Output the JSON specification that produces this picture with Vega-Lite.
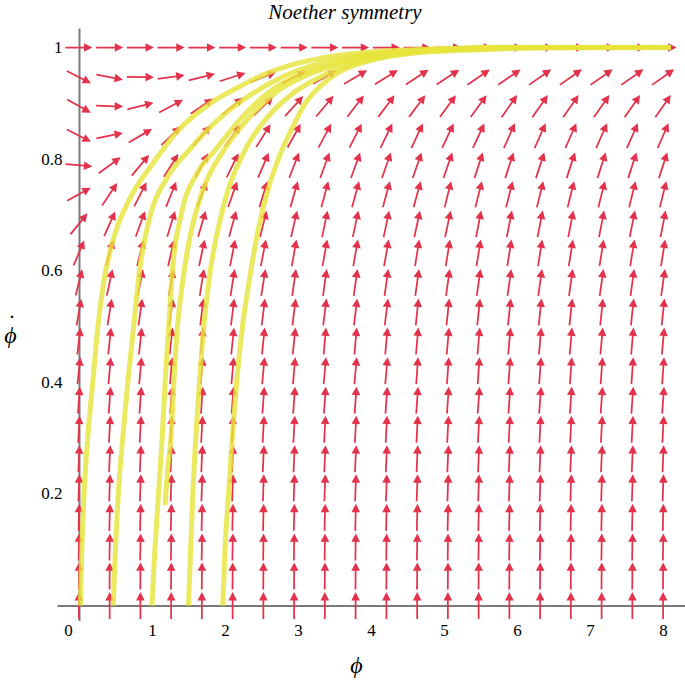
{
  "$schema": "https://vega.github.io/schema/vega-lite/v6.json",
  "autosize": {"type": "none"},
  "padding": {"left": 57, "top": 28, "right": 0, "bottom": 60},
  "width": 628,
  "height": 592.6,
  "background": "white",
  "title": {"text": "Noether symmetry", "font": "Liberation Serif", "fontStyle": "italic", "fontWeight": "normal", "fontSize": 21, "color": "black", "anchor": "middle", "frame": "group", "dx": -26, "offset": 5},
  "config": {"view": {"stroke": null}},
  "datasets": {
    "arrows": [
      {"x":0,"y":1,"a":90},{"x":0.421,"y":1,"a":90},{"x":0.842,"y":1,"a":90},{"x":1.263,"y":1,"a":90},{"x":1.684,"y":1,"a":90},{"x":2.105,"y":1,"a":90},{"x":2.526,"y":1,"a":90},{"x":2.947,"y":1,"a":90},{"x":3.368,"y":1,"a":90},{"x":3.789,"y":1,"a":90},{"x":4.211,"y":1,"a":90},{"x":4.632,"y":1,"a":90},{"x":5.053,"y":1,"a":90},{"x":5.474,"y":1,"a":90},{"x":5.895,"y":1,"a":90},{"x":6.316,"y":1,"a":90},{"x":6.737,"y":1,"a":90},{"x":7.158,"y":1,"a":90},{"x":7.579,"y":1,"a":90},{"x":8,"y":1,"a":90},
      {"x":0,"y":0.947,"a":117},{"x":0.421,"y":0.947,"a":101},{"x":0.842,"y":0.947,"a":91},{"x":1.263,"y":0.947,"a":82},{"x":1.684,"y":0.947,"a":76},{"x":2.105,"y":0.947,"a":72},{"x":2.526,"y":0.947,"a":68},{"x":2.947,"y":0.947,"a":63},{"x":3.368,"y":0.947,"a":61},{"x":3.789,"y":0.947,"a":59},{"x":4.211,"y":0.947,"a":58},{"x":4.632,"y":0.947,"a":57},{"x":5.053,"y":0.947,"a":57},{"x":5.474,"y":0.947,"a":56},{"x":5.895,"y":0.947,"a":56},{"x":6.316,"y":0.947,"a":55},{"x":6.737,"y":0.947,"a":55},{"x":7.158,"y":0.947,"a":55},{"x":7.579,"y":0.947,"a":55},{"x":8,"y":0.947,"a":55},
      {"x":0,"y":0.895,"a":119},{"x":0.421,"y":0.895,"a":92},{"x":0.842,"y":0.895,"a":76},{"x":1.263,"y":0.895,"a":62},{"x":1.684,"y":0.895,"a":56},{"x":2.105,"y":0.895,"a":51},{"x":2.526,"y":0.895,"a":46},{"x":2.947,"y":0.895,"a":42},{"x":3.368,"y":0.895,"a":40},{"x":3.789,"y":0.895,"a":38},{"x":4.211,"y":0.895,"a":37},{"x":4.632,"y":0.895,"a":37},{"x":5.053,"y":0.895,"a":36},{"x":5.474,"y":0.895,"a":36},{"x":5.895,"y":0.895,"a":35},{"x":6.316,"y":0.895,"a":35},{"x":6.737,"y":0.895,"a":35},{"x":7.158,"y":0.895,"a":35},{"x":7.579,"y":0.895,"a":35},{"x":8,"y":0.895,"a":35},
      {"x":0,"y":0.842,"a":117},{"x":0.421,"y":0.842,"a":79},{"x":0.842,"y":0.842,"a":60},{"x":1.263,"y":0.842,"a":46},{"x":1.684,"y":0.842,"a":40},{"x":2.105,"y":0.842,"a":36},{"x":2.526,"y":0.842,"a":32},{"x":2.947,"y":0.842,"a":29},{"x":3.368,"y":0.842,"a":28},{"x":3.789,"y":0.842,"a":27},{"x":4.211,"y":0.842,"a":26},{"x":4.632,"y":0.842,"a":25},{"x":5.053,"y":0.842,"a":25},{"x":5.474,"y":0.842,"a":25},{"x":5.895,"y":0.842,"a":24},{"x":6.316,"y":0.842,"a":24},{"x":6.737,"y":0.842,"a":24},{"x":7.158,"y":0.842,"a":24},{"x":7.579,"y":0.842,"a":24},{"x":8,"y":0.842,"a":24},
      {"x":0,"y":0.789,"a":95},{"x":0.421,"y":0.789,"a":54},{"x":0.842,"y":0.789,"a":40},{"x":1.263,"y":0.789,"a":32},{"x":1.684,"y":0.789,"a":28},{"x":2.105,"y":0.789,"a":26},{"x":2.526,"y":0.789,"a":23},{"x":2.947,"y":0.789,"a":21},{"x":3.368,"y":0.789,"a":20},{"x":3.789,"y":0.789,"a":20},{"x":4.211,"y":0.789,"a":19},{"x":4.632,"y":0.789,"a":19},{"x":5.053,"y":0.789,"a":19},{"x":5.474,"y":0.789,"a":18},{"x":5.895,"y":0.789,"a":18},{"x":6.316,"y":0.789,"a":18},{"x":6.737,"y":0.789,"a":18},{"x":7.158,"y":0.789,"a":18},{"x":7.579,"y":0.789,"a":18},{"x":8,"y":0.789,"a":18},
      {"x":0,"y":0.737,"a":61},{"x":0.421,"y":0.737,"a":34},{"x":0.842,"y":0.737,"a":27},{"x":1.263,"y":0.737,"a":22},{"x":1.684,"y":0.737,"a":20},{"x":2.105,"y":0.737,"a":19},{"x":2.526,"y":0.737,"a":17},{"x":2.947,"y":0.737,"a":16},{"x":3.368,"y":0.737,"a":15},{"x":3.789,"y":0.737,"a":15},{"x":4.211,"y":0.737,"a":15},{"x":4.632,"y":0.737,"a":15},{"x":5.053,"y":0.737,"a":14},{"x":5.474,"y":0.737,"a":14},{"x":5.895,"y":0.737,"a":14},{"x":6.316,"y":0.737,"a":14},{"x":6.737,"y":0.737,"a":14},{"x":7.158,"y":0.737,"a":14},{"x":7.579,"y":0.737,"a":14},{"x":8,"y":0.737,"a":14},
      {"x":0,"y":0.684,"a":39},{"x":0.421,"y":0.684,"a":24},{"x":0.842,"y":0.684,"a":20},{"x":1.263,"y":0.684,"a":17},{"x":1.684,"y":0.684,"a":16},{"x":2.105,"y":0.684,"a":15},{"x":2.526,"y":0.684,"a":14},{"x":2.947,"y":0.684,"a":13},{"x":3.368,"y":0.684,"a":12},{"x":3.789,"y":0.684,"a":12},{"x":4.211,"y":0.684,"a":12},{"x":4.632,"y":0.684,"a":12},{"x":5.053,"y":0.684,"a":12},{"x":5.474,"y":0.684,"a":11},{"x":5.895,"y":0.684,"a":11},{"x":6.316,"y":0.684,"a":11},{"x":6.737,"y":0.684,"a":11},{"x":7.158,"y":0.684,"a":11},{"x":7.579,"y":0.684,"a":11},{"x":8,"y":0.684,"a":11},
      {"x":0,"y":0.632,"a":23},{"x":0.421,"y":0.632,"a":16},{"x":0.842,"y":0.632,"a":14},{"x":1.263,"y":0.632,"a":13},{"x":1.684,"y":0.632,"a":12},{"x":2.105,"y":0.632,"a":11},{"x":2.526,"y":0.632,"a":11},{"x":2.947,"y":0.632,"a":10},{"x":3.368,"y":0.632,"a":10},{"x":3.789,"y":0.632,"a":10},{"x":4.211,"y":0.632,"a":10},{"x":4.632,"y":0.632,"a":9},{"x":5.053,"y":0.632,"a":9},{"x":5.474,"y":0.632,"a":9},{"x":5.895,"y":0.632,"a":9},{"x":6.316,"y":0.632,"a":9},{"x":6.737,"y":0.632,"a":9},{"x":7.158,"y":0.632,"a":9},{"x":7.579,"y":0.632,"a":9},{"x":8,"y":0.632,"a":9},
      {"x":0,"y":0.579,"a":14},{"x":0.421,"y":0.579,"a":12},{"x":0.842,"y":0.579,"a":11},{"x":1.263,"y":0.579,"a":10},{"x":1.684,"y":0.579,"a":9},{"x":2.105,"y":0.579,"a":9},{"x":2.526,"y":0.579,"a":9},{"x":2.947,"y":0.579,"a":8},{"x":3.368,"y":0.579,"a":8},{"x":3.789,"y":0.579,"a":8},{"x":4.211,"y":0.579,"a":8},{"x":4.632,"y":0.579,"a":8},{"x":5.053,"y":0.579,"a":8},{"x":5.474,"y":0.579,"a":8},{"x":5.895,"y":0.579,"a":8},{"x":6.316,"y":0.579,"a":8},{"x":6.737,"y":0.579,"a":8},{"x":7.158,"y":0.579,"a":8},{"x":7.579,"y":0.579,"a":8},{"x":8,"y":0.579,"a":8},
      {"x":0,"y":0.526,"a":10},{"x":0.421,"y":0.526,"a":9},{"x":0.842,"y":0.526,"a":8},{"x":1.263,"y":0.526,"a":8},{"x":1.684,"y":0.526,"a":7},{"x":2.105,"y":0.526,"a":7},{"x":2.526,"y":0.526,"a":7},{"x":2.947,"y":0.526,"a":7},{"x":3.368,"y":0.526,"a":7},{"x":3.789,"y":0.526,"a":7},{"x":4.211,"y":0.526,"a":7},{"x":4.632,"y":0.526,"a":6},{"x":5.053,"y":0.526,"a":6},{"x":5.474,"y":0.526,"a":6},{"x":5.895,"y":0.526,"a":6},{"x":6.316,"y":0.526,"a":6},{"x":6.737,"y":0.526,"a":6},{"x":7.158,"y":0.526,"a":6},{"x":7.579,"y":0.526,"a":6},{"x":8,"y":0.526,"a":6},
      {"x":0,"y":0.474,"a":7},{"x":0.421,"y":0.474,"a":6},{"x":0.842,"y":0.474,"a":6},{"x":1.263,"y":0.474,"a":6},{"x":1.684,"y":0.474,"a":6},{"x":2.105,"y":0.474,"a":6},{"x":2.526,"y":0.474,"a":6},{"x":2.947,"y":0.474,"a":6},{"x":3.368,"y":0.474,"a":5},{"x":3.789,"y":0.474,"a":5},{"x":4.211,"y":0.474,"a":5},{"x":4.632,"y":0.474,"a":5},{"x":5.053,"y":0.474,"a":5},{"x":5.474,"y":0.474,"a":5},{"x":5.895,"y":0.474,"a":5},{"x":6.316,"y":0.474,"a":5},{"x":6.737,"y":0.474,"a":5},{"x":7.158,"y":0.474,"a":5},{"x":7.579,"y":0.474,"a":5},{"x":8,"y":0.474,"a":5},
      {"x":0,"y":0.421,"a":6},{"x":0.421,"y":0.421,"a":5},{"x":0.842,"y":0.421,"a":5},{"x":1.263,"y":0.421,"a":5},{"x":1.684,"y":0.421,"a":5},{"x":2.105,"y":0.421,"a":5},{"x":2.526,"y":0.421,"a":5},{"x":2.947,"y":0.421,"a":5},{"x":3.368,"y":0.421,"a":5},{"x":3.789,"y":0.421,"a":5},{"x":4.211,"y":0.421,"a":5},{"x":4.632,"y":0.421,"a":4},{"x":5.053,"y":0.421,"a":4},{"x":5.474,"y":0.421,"a":4},{"x":5.895,"y":0.421,"a":4},{"x":6.316,"y":0.421,"a":4},{"x":6.737,"y":0.421,"a":4},{"x":7.158,"y":0.421,"a":4},{"x":7.579,"y":0.421,"a":4},{"x":8,"y":0.421,"a":4},
      {"x":0,"y":0.368,"a":4},{"x":0.421,"y":0.368,"a":4},{"x":0.842,"y":0.368,"a":4},{"x":1.263,"y":0.368,"a":4},{"x":1.684,"y":0.368,"a":4},{"x":2.105,"y":0.368,"a":4},{"x":2.526,"y":0.368,"a":4},{"x":2.947,"y":0.368,"a":4},{"x":3.368,"y":0.368,"a":4},{"x":3.789,"y":0.368,"a":4},{"x":4.211,"y":0.368,"a":4},{"x":4.632,"y":0.368,"a":4},{"x":5.053,"y":0.368,"a":4},{"x":5.474,"y":0.368,"a":4},{"x":5.895,"y":0.368,"a":4},{"x":6.316,"y":0.368,"a":4},{"x":6.737,"y":0.368,"a":4},{"x":7.158,"y":0.368,"a":4},{"x":7.579,"y":0.368,"a":4},{"x":8,"y":0.368,"a":4},
      {"x":0,"y":0.316,"a":3},{"x":0.421,"y":0.316,"a":3},{"x":0.842,"y":0.316,"a":3},{"x":1.263,"y":0.316,"a":3},{"x":1.684,"y":0.316,"a":3},{"x":2.105,"y":0.316,"a":3},{"x":2.526,"y":0.316,"a":3},{"x":2.947,"y":0.316,"a":3},{"x":3.368,"y":0.316,"a":3},{"x":3.789,"y":0.316,"a":3},{"x":4.211,"y":0.316,"a":3},{"x":4.632,"y":0.316,"a":3},{"x":5.053,"y":0.316,"a":3},{"x":5.474,"y":0.316,"a":3},{"x":5.895,"y":0.316,"a":3},{"x":6.316,"y":0.316,"a":3},{"x":6.737,"y":0.316,"a":3},{"x":7.158,"y":0.316,"a":3},{"x":7.579,"y":0.316,"a":3},{"x":8,"y":0.316,"a":3},
      {"x":0,"y":0.263,"a":2.5},{"x":0.421,"y":0.263,"a":2.5},{"x":0.842,"y":0.263,"a":2.5},{"x":1.263,"y":0.263,"a":2.5},{"x":1.684,"y":0.263,"a":2.5},{"x":2.105,"y":0.263,"a":2.5},{"x":2.526,"y":0.263,"a":2.5},{"x":2.947,"y":0.263,"a":2.5},{"x":3.368,"y":0.263,"a":2.5},{"x":3.789,"y":0.263,"a":2.5},{"x":4.211,"y":0.263,"a":2.5},{"x":4.632,"y":0.263,"a":2.5},{"x":5.053,"y":0.263,"a":2.5},{"x":5.474,"y":0.263,"a":2.5},{"x":5.895,"y":0.263,"a":2.5},{"x":6.316,"y":0.263,"a":2.5},{"x":6.737,"y":0.263,"a":2.5},{"x":7.158,"y":0.263,"a":2.5},{"x":7.579,"y":0.263,"a":2.5},{"x":8,"y":0.263,"a":2.5},
      {"x":0,"y":0.211,"a":2},{"x":0.421,"y":0.211,"a":2},{"x":0.842,"y":0.211,"a":2},{"x":1.263,"y":0.211,"a":2},{"x":1.684,"y":0.211,"a":2},{"x":2.105,"y":0.211,"a":2},{"x":2.526,"y":0.211,"a":2},{"x":2.947,"y":0.211,"a":2},{"x":3.368,"y":0.211,"a":2},{"x":3.789,"y":0.211,"a":2},{"x":4.211,"y":0.211,"a":2},{"x":4.632,"y":0.211,"a":2},{"x":5.053,"y":0.211,"a":2},{"x":5.474,"y":0.211,"a":2},{"x":5.895,"y":0.211,"a":2},{"x":6.316,"y":0.211,"a":2},{"x":6.737,"y":0.211,"a":2},{"x":7.158,"y":0.211,"a":2},{"x":7.579,"y":0.211,"a":2},{"x":8,"y":0.211,"a":2},
      {"x":0,"y":0.158,"a":1.4},{"x":0.421,"y":0.158,"a":1.4},{"x":0.842,"y":0.158,"a":1.4},{"x":1.263,"y":0.158,"a":1.4},{"x":1.684,"y":0.158,"a":1.4},{"x":2.105,"y":0.158,"a":1.4},{"x":2.526,"y":0.158,"a":1.4},{"x":2.947,"y":0.158,"a":1.4},{"x":3.368,"y":0.158,"a":1.4},{"x":3.789,"y":0.158,"a":1.4},{"x":4.211,"y":0.158,"a":1.4},{"x":4.632,"y":0.158,"a":1.4},{"x":5.053,"y":0.158,"a":1.4},{"x":5.474,"y":0.158,"a":1.4},{"x":5.895,"y":0.158,"a":1.4},{"x":6.316,"y":0.158,"a":1.4},{"x":6.737,"y":0.158,"a":1.4},{"x":7.158,"y":0.158,"a":1.4},{"x":7.579,"y":0.158,"a":1.4},{"x":8,"y":0.158,"a":1.4},
      {"x":0,"y":0.105,"a":1},{"x":0.421,"y":0.105,"a":1},{"x":0.842,"y":0.105,"a":1},{"x":1.263,"y":0.105,"a":1},{"x":1.684,"y":0.105,"a":1},{"x":2.105,"y":0.105,"a":1},{"x":2.526,"y":0.105,"a":1},{"x":2.947,"y":0.105,"a":1},{"x":3.368,"y":0.105,"a":1},{"x":3.789,"y":0.105,"a":1},{"x":4.211,"y":0.105,"a":1},{"x":4.632,"y":0.105,"a":1},{"x":5.053,"y":0.105,"a":1},{"x":5.474,"y":0.105,"a":1},{"x":5.895,"y":0.105,"a":1},{"x":6.316,"y":0.105,"a":1},{"x":6.737,"y":0.105,"a":1},{"x":7.158,"y":0.105,"a":1},{"x":7.579,"y":0.105,"a":1},{"x":8,"y":0.105,"a":1},
      {"x":0,"y":0.053,"a":0.5},{"x":0.421,"y":0.053,"a":0.5},{"x":0.842,"y":0.053,"a":0.5},{"x":1.263,"y":0.053,"a":0.5},{"x":1.684,"y":0.053,"a":0.5},{"x":2.105,"y":0.053,"a":0.5},{"x":2.526,"y":0.053,"a":0.5},{"x":2.947,"y":0.053,"a":0.5},{"x":3.368,"y":0.053,"a":0.5},{"x":3.789,"y":0.053,"a":0.5},{"x":4.211,"y":0.053,"a":0.5},{"x":4.632,"y":0.053,"a":0.5},{"x":5.053,"y":0.053,"a":0.5},{"x":5.474,"y":0.053,"a":0.5},{"x":5.895,"y":0.053,"a":0.5},{"x":6.316,"y":0.053,"a":0.5},{"x":6.737,"y":0.053,"a":0.5},{"x":7.158,"y":0.053,"a":0.5},{"x":7.579,"y":0.053,"a":0.5},{"x":8,"y":0.053,"a":0.5},
      {"x":0,"y":0,"a":0},{"x":0.421,"y":0,"a":0},{"x":0.842,"y":0,"a":0},{"x":1.263,"y":0,"a":0},{"x":1.684,"y":0,"a":0},{"x":2.105,"y":0,"a":0},{"x":2.526,"y":0,"a":0},{"x":2.947,"y":0,"a":0},{"x":3.368,"y":0,"a":0},{"x":3.789,"y":0,"a":0},{"x":4.211,"y":0,"a":0},{"x":4.632,"y":0,"a":0},{"x":5.053,"y":0,"a":0},{"x":5.474,"y":0,"a":0},{"x":5.895,"y":0,"a":0},{"x":6.316,"y":0,"a":0},{"x":6.737,"y":0,"a":0},{"x":7.158,"y":0,"a":0},{"x":7.579,"y":0,"a":0},{"x":8,"y":0,"a":0}
    ],
    "curves": [
      {"c":"A","o":1,"x":0.02,"y":0},{"c":"A","o":2,"x":0.04,"y":0.1},{"c":"A","o":3,"x":0.07,"y":0.2},{"c":"A","o":4,"x":0.12,"y":0.3},{"c":"A","o":5,"x":0.19,"y":0.4},{"c":"A","o":6,"x":0.26,"y":0.5},{"c":"A","o":7,"x":0.34,"y":0.58},{"c":"A","o":8,"x":0.48,"y":0.66},{"c":"A","o":9,"x":0.7,"y":0.73},{"c":"A","o":10,"x":1.0,"y":0.79},{"c":"A","o":11,"x":1.35,"y":0.85},{"c":"A","o":12,"x":1.8,"y":0.9},{"c":"A","o":13,"x":2.2,"y":0.93},{"c":"A","o":14,"x":2.6,"y":0.955},{"c":"A","o":15,"x":3.0,"y":0.972},{"c":"A","o":16,"x":3.5,"y":0.985},{"c":"A","o":17,"x":4.2,"y":0.994},{"c":"A","o":18,"x":5.0,"y":0.998},{"c":"A","o":19,"x":6.0,"y":1},{"c":"A","o":20,"x":8.1,"y":1},
      {"c":"B","o":1,"x":0.47,"y":0},{"c":"B","o":2,"x":0.5,"y":0.1},{"c":"B","o":3,"x":0.54,"y":0.2},{"c":"B","o":4,"x":0.6,"y":0.3},{"c":"B","o":5,"x":0.67,"y":0.4},{"c":"B","o":6,"x":0.75,"y":0.5},{"c":"B","o":7,"x":0.83,"y":0.6},{"c":"B","o":8,"x":0.98,"y":0.7},{"c":"B","o":9,"x":1.2,"y":0.765},{"c":"B","o":10,"x":1.5,"y":0.815},{"c":"B","o":11,"x":1.9,"y":0.87},{"c":"B","o":12,"x":2.35,"y":0.915},{"c":"B","o":13,"x":2.8,"y":0.948},{"c":"B","o":14,"x":3.3,"y":0.972},{"c":"B","o":15,"x":3.9,"y":0.987},{"c":"B","o":16,"x":4.6,"y":0.995},{"c":"B","o":17,"x":5.5,"y":0.999},{"c":"B","o":18,"x":8.1,"y":1},
      {"c":"C","o":1,"x":1.0,"y":0},{"c":"C","o":2,"x":1.04,"y":0.1},{"c":"C","o":3,"x":1.09,"y":0.2},{"c":"C","o":4,"x":1.14,"y":0.3},{"c":"C","o":5,"x":1.18,"y":0.4},{"c":"C","o":6,"x":1.23,"y":0.5},{"c":"C","o":7,"x":1.28,"y":0.6},{"c":"C","o":8,"x":1.4,"y":0.7},{"c":"C","o":9,"x":1.62,"y":0.775},{"c":"C","o":10,"x":1.86,"y":0.815},{"c":"C","o":11,"x":2.2,"y":0.87},{"c":"C","o":12,"x":2.6,"y":0.92},{"c":"C","o":13,"x":3.05,"y":0.953},{"c":"C","o":14,"x":3.6,"y":0.975},{"c":"C","o":15,"x":4.2,"y":0.989},{"c":"C","o":16,"x":5.0,"y":0.997},{"c":"C","o":17,"x":6.0,"y":1},{"c":"C","o":18,"x":8.1,"y":1},
      {"c":"D","o":1,"x":1.18,"y":0.18},{"c":"D","o":2,"x":1.22,"y":0.25},{"c":"D","o":3,"x":1.26,"y":0.3},{"c":"D","o":4,"x":1.3,"y":0.4},{"c":"D","o":5,"x":1.35,"y":0.5},{"c":"D","o":6,"x":1.42,"y":0.58},{"c":"D","o":7,"x":1.52,"y":0.66},{"c":"D","o":8,"x":1.7,"y":0.745},{"c":"D","o":9,"x":1.98,"y":0.815},{"c":"D","o":10,"x":2.3,"y":0.87},{"c":"D","o":11,"x":2.7,"y":0.92},{"c":"D","o":12,"x":3.15,"y":0.952},{"c":"D","o":13,"x":3.7,"y":0.975},{"c":"D","o":14,"x":4.3,"y":0.99},{"c":"D","o":15,"x":5.1,"y":0.997},{"c":"D","o":16,"x":6.0,"y":1},{"c":"D","o":17,"x":8.1,"y":1},
      {"c":"E","o":1,"x":1.5,"y":0},{"c":"E","o":2,"x":1.53,"y":0.1},{"c":"E","o":3,"x":1.56,"y":0.2},{"c":"E","o":4,"x":1.6,"y":0.3},{"c":"E","o":5,"x":1.65,"y":0.4},{"c":"E","o":6,"x":1.71,"y":0.5},{"c":"E","o":7,"x":1.8,"y":0.6},{"c":"E","o":8,"x":1.95,"y":0.7},{"c":"E","o":9,"x":2.27,"y":0.815},{"c":"E","o":10,"x":2.55,"y":0.87},{"c":"E","o":11,"x":2.9,"y":0.915},{"c":"E","o":12,"x":3.35,"y":0.95},{"c":"E","o":13,"x":3.85,"y":0.975},{"c":"E","o":14,"x":4.5,"y":0.99},{"c":"E","o":15,"x":5.3,"y":0.997},{"c":"E","o":16,"x":6.3,"y":1},{"c":"E","o":17,"x":8.1,"y":1},
      {"c":"F","o":1,"x":1.97,"y":0},{"c":"F","o":2,"x":2.0,"y":0.1},{"c":"F","o":3,"x":2.05,"y":0.2},{"c":"F","o":4,"x":2.1,"y":0.3},{"c":"F","o":5,"x":2.16,"y":0.4},{"c":"F","o":6,"x":2.24,"y":0.5},{"c":"F","o":7,"x":2.33,"y":0.58},{"c":"F","o":8,"x":2.45,"y":0.67},{"c":"F","o":9,"x":2.6,"y":0.75},{"c":"F","o":10,"x":2.73,"y":0.8},{"c":"F","o":11,"x":2.9,"y":0.85},{"c":"F","o":12,"x":3.1,"y":0.9},{"c":"F","o":13,"x":3.3,"y":0.93},{"c":"F","o":14,"x":3.55,"y":0.955},{"c":"F","o":15,"x":3.95,"y":0.975},{"c":"F","o":16,"x":4.6,"y":0.99},{"c":"F","o":17,"x":5.5,"y":0.996},{"c":"F","o":18,"x":6.5,"y":1},{"c":"F","o":19,"x":8.1,"y":1}
    ]
  },
  "encoding": {
    "x": {
      "field": "x", "type": "quantitative",
      "scale": {"domain": [-0.3, 8.3], "nice": false, "zero": false},
      "axis": {
        "values": [0, 1, 2, 3, 4, 5, 6, 7, 8], "format": "d", "offset": -15.1,
        "ticks": false, "grid": false, "domainColor": "#7a7a7a", "domainWidth": 2,
        "labelFont": "Liberation Serif", "labelFontSize": 17, "labelColor": "black", "labelPadding": 17,
        "labelOffset": {"condition": {"test": "datum.value === 0", "value": -11}, "value": 0},
        "title": "ϕ", "titleFont": "Liberation Serif", "titleFontStyle": "italic", "titleFontWeight": "normal", "titleFontSize": 24, "titleColor": "black",
        "titleX": 299, "titleY": 60, "titleAlign": "center", "titleBaseline": "middle"
      }
    },
    "y": {
      "field": "y", "type": "quantitative",
      "scale": {"domain": [-0.027, 1.035], "nice": false, "zero": false},
      "axis": {
        "values": [0.2, 0.4, 0.6, 0.8, 1], "format": "~g", "offset": -22,
        "ticks": false, "grid": false, "domainColor": "#7a7a7a", "domainWidth": 2,
        "labelFont": "Liberation Serif", "labelFontSize": 17, "labelColor": "black", "labelPadding": 17,
        "title": ["˙", "ϕ"], "titleFont": "Liberation Serif", "titleFontStyle": "italic", "titleFontWeight": "normal", "titleFontSize": 24, "titleColor": "black", "titleLineHeight": 12,
        "titleAngle": 0, "titleX": -69, "titleY": 296, "titleAlign": "center", "titleBaseline": "middle"
      }
    }
  },
  "layer": [
    {
      "data": {"name": "arrows"},
      "mark": {"type": "point", "shape": "M-0.065,1L0.065,1L0.065,-0.38L0.32,-0.38L0,-1L-0.32,-0.38L-0.065,-0.38Z", "filled": true, "size": 729, "color": "#e3334c", "opacity": 1, "strokeWidth": 0},
      "encoding": {
        "angle": {"field": "a", "type": "quantitative", "scale": null}
      }
    },
    {
      "data": {"name": "curves"},
      "mark": {"type": "line", "interpolate": "monotone", "color": "#e6e43c", "strokeWidth": 5, "opacity": 0.82},
      "encoding": {
        "detail": {"field": "c", "type": "nominal"},
        "order": {"field": "o", "type": "quantitative"}
      }
    }
  ]
}
